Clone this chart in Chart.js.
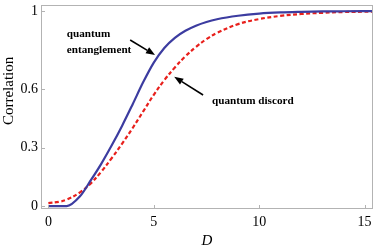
<!DOCTYPE html>
<html>
<head>
<meta charset="utf-8">
<script src="https://cdn.jsdelivr.net/npm/chart.js@4/dist/chart.umd.min.js"></script>
<style>
html,body{margin:0;padding:0;background:#fff;}
#wrap{width:374px;height:250px;position:relative;}
</style>
</head>
<body>
<div id="wrap"><canvas id="c" width="374" height="250"></canvas></div>
<script>
// Data
const D = [0, 0.5, 0.87, 1.5, 2, 2.5, 3, 3.5, 4, 4.5, 5, 5.5, 6, 6.5, 7, 7.5, 8, 9, 10, 11, 12, 13, 14, 15.4];
const entanglement = [0, 0, 0, 0.05, 0.13, 0.215, 0.31, 0.412, 0.522, 0.635, 0.735, 0.81, 0.862, 0.898, 0.924, 0.943, 0.957, 0.975, 0.986, 0.992, 0.995, 0.997, 0.998, 0.999];
const discord = [0.015, 0.022, 0.033, 0.07, 0.115, 0.175, 0.245, 0.32, 0.40, 0.485, 0.57, 0.645, 0.71, 0.767, 0.815, 0.855, 0.887, 0.932, 0.958, 0.974, 0.984, 0.99, 0.994, 0.996];
const xTicks = [0, 5, 10, 15];
const yTicks = [0, 0.3, 0.6, 1];
const yTickLabels = ['0', '0.3', '0.6', '1'];
const seriesNames = ['quantum entanglement', 'quantum discord'];
const yTitle = 'Correlation';
const xTitle = 'D';

// Annotations (in data units)
const notes = [
  {lines: ['quantum', 'entanglement'], x: 0.87, y: 0.882, dy: 0.082},
  {lines: ['quantum discord'], x: 7.76, y: 0.54, dy: 0}
];
const arrows = [
  {from: [3.88, 0.851], to: [5.06, 0.774]},
  {from: [7.34, 0.569], to: [5.97, 0.662]}
];

const FRAME = '#b3b3b3';
const serif = '"Liberation Serif", "DejaVu Serif", serif';

const framePlugin = {
  id: 'frame',
  afterDatasetsDraw(chart) {
    const {ctx, chartArea: a, scales: {x, y}} = chart;
    ctx.save();
    ctx.strokeStyle = FRAME;
    ctx.lineWidth = 1;
    ctx.strokeRect(a.left + 0.5, a.top + 0.5, a.right - a.left - 1, a.bottom - a.top - 1);
    ctx.beginPath();
    xTicks.forEach(v => {
      const px = Math.round(x.getPixelForValue(v)) + 0.5;
      ctx.moveTo(px, a.bottom); ctx.lineTo(px, a.bottom - 4);
    });
    yTicks.forEach(v => {
      const py = Math.round(y.getPixelForValue(v)) + 0.5;
      ctx.moveTo(a.left, py); ctx.lineTo(a.left + 4, py);
    });
    ctx.stroke();

    // y axis title
    ctx.fillStyle = '#000';
    ctx.font = '15px ' + serif;
    ctx.textAlign = 'center';
    ctx.textBaseline = 'middle';
    ctx.save();
    ctx.translate(9.5, y.getPixelForValue(0.59));
    ctx.rotate(-Math.PI / 2);
    ctx.fillText(yTitle, 0, 0);
    ctx.restore();

    // annotations
    ctx.font = 'bold 11.2px ' + serif;
    ctx.textAlign = 'left';
    notes.forEach(n => {
      n.lines.forEach((t, i) => {
        ctx.fillText(t, x.getPixelForValue(n.x), y.getPixelForValue(n.y - i * n.dy));
      });
    });
    arrows.forEach(ar => {
      const x1 = x.getPixelForValue(ar.from[0]), y1 = y.getPixelForValue(ar.from[1]);
      const x2 = x.getPixelForValue(ar.to[0]), y2 = y.getPixelForValue(ar.to[1]);
      const ang = Math.atan2(y2 - y1, x2 - x1);
      const L = 9, W = 3.5;
      const bx = x2 - L * Math.cos(ang), by = y2 - L * Math.sin(ang);
      ctx.strokeStyle = '#000';
      ctx.lineWidth = 1.6;
      ctx.beginPath(); ctx.moveTo(x1, y1); ctx.lineTo(bx, by); ctx.stroke();
      ctx.beginPath();
      ctx.moveTo(x2, y2);
      ctx.lineTo(bx + W * Math.sin(ang), by - W * Math.cos(ang));
      ctx.lineTo(bx - W * Math.sin(ang), by + W * Math.cos(ang));
      ctx.closePath(); ctx.fill();
    });
    ctx.restore();
  }
};

new Chart(document.getElementById('c'), {
  type: 'line',
  data: {
    datasets: [
      {
        label: seriesNames[0],
        data: D.map((d, i) => ({x: d, y: entanglement[i]})),
        borderColor: '#3c3ca0',
        borderWidth: 2.2,
        pointRadius: 0,
        fill: false,
        cubicInterpolationMode: 'monotone'
      },
      {
        label: seriesNames[1],
        data: D.map((d, i) => ({x: d, y: discord[i]})),
        borderColor: '#e8201c',
        borderWidth: 2.2,
        borderDash: [4, 2.5],
        pointRadius: 0,
        fill: false,
        tension: 0.4
      }
    ]
  },
  options: {
    responsive: false,
    animation: false,
    devicePixelRatio: 1,
    layout: {padding: {top: 5, right: 1, left: 0, bottom: 0}},
    plugins: {legend: {display: false}, tooltip: {enabled: false}},
    scales: {
      x: {
        type: 'linear',
        min: -0.35,
        max: 15.4,
        grid: {display: false, drawTicks: false},
        border: {display: false},
        afterBuildTicks: s => { s.ticks = xTicks.map(v => ({value: v})); },
        afterFit: s => { s.paddingLeft = 0; s.paddingRight = 0; s.height = 41; },
        ticks: {
          color: '#000',
          padding: 5,
          maxRotation: 0,
          autoSkip: false,
          font: {family: serif, size: 14},
          callback: v => String(v)
        },
        title: {
          display: true,
          text: xTitle,
          color: '#000',
          padding: {top: 1, bottom: 0},
          font: {family: serif, size: 15, style: 'italic'}
        }
      },
      y: {
        type: 'linear',
        min: -0.015,
        max: 1.03,
        grid: {display: false, drawTicks: false},
        border: {display: false},
        afterBuildTicks: s => { s.ticks = yTicks.map(v => ({value: v})); },
        afterFit: s => { s.paddingTop = 0; s.paddingBottom = 0; s.width = 41; },
        ticks: {
          color: '#000',
          padding: 3,
          autoSkip: false,
          font: {family: serif, size: 14},
          callback: v => yTickLabels[yTicks.indexOf(v)]
        }
      }
    }
  },
  plugins: [framePlugin]
});
</script>
</body>
</html>
